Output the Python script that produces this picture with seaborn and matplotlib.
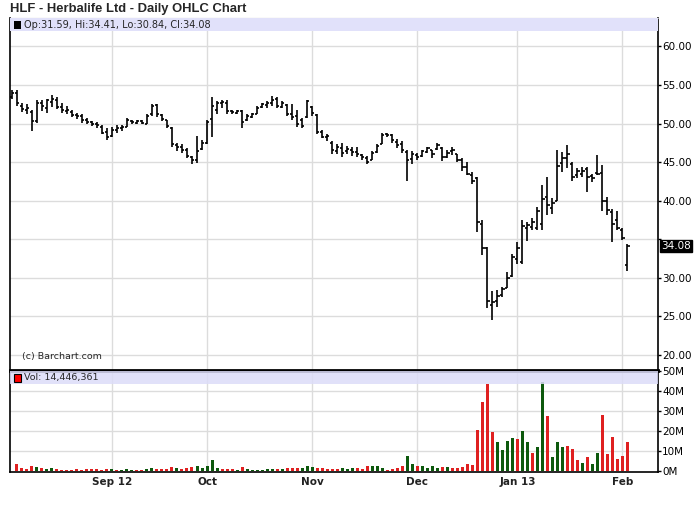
import matplotlib
matplotlib.use("Agg")
import matplotlib.pyplot as plt
from matplotlib.patches import Rectangle
import seaborn as sns
import numpy as np
import pandas as pd

# daily bars, Aug 6 2012 .. Feb 4 2013 (one row per trading day)
opens = [53.5, 54.0, 52.3, 51.8, 51.5, 50.3, 52.7, 52.0, 52.8, 53.1,
         52.1, 51.6, 51.5, 51.1, 51.0, 50.5, 50.2, 49.9, 49.6, 48.9,
         48.4, 49.1, 49.4, 49.6, 50.3, 50.1, 50.3, 50.0, 51.2, 52.4,
         51.1, 50.4, 49.4, 47.2, 47.0, 46.5, 45.6, 45.3, 46.7, 47.5,
         50.6, 51.8, 52.6, 52.7, 51.6, 51.4, 51.6, 50.5, 50.9, 51.3,
         52.1, 52.4, 52.6, 53.2, 52.2, 52.4, 51.3, 51.0, 50.4, 50.9,
         52.2, 51.1, 48.9, 48.2, 47.5, 46.4, 46.8, 46.4, 46.6, 46.3,
         45.9, 45.5, 45.3, 46.3, 47.4, 48.6, 48.5, 47.6, 47.3, 46.3,
         45.4, 45.9, 45.8, 46.3, 46.5, 46.7, 46.8, 45.7, 46.4, 46.0,
         45.2, 44.4, 43.3, 42.9, 36.9, 33.9, 26.5, 27.0, 27.7, 28.7,
         30.2, 32.4, 32.0, 36.5, 36.6, 36.4, 37.0, 40.4, 39.0, 40.0,
         44.9, 45.5, 44.8, 43.3, 43.4, 44.1, 43.2, 43.6, 43.6, 40.0,
         38.5, 37.5, 36.2, 31.59]
highs = [54.4, 54.3, 52.6, 52.5, 51.7, 53.0, 53.0, 53.2, 53.7, 53.4,
         52.6, 52.3, 51.7, 51.4, 51.2, 50.7, 50.3, 50.2, 49.8, 49.4,
         49.5, 49.8, 49.8, 50.7, 50.5, 50.5, 50.5, 51.2, 52.5, 52.5,
         51.2, 50.5, 49.5, 47.5, 47.3, 46.8, 45.8, 48.4, 47.9, 50.5,
         53.4, 52.9, 53.1, 53.1, 51.8, 51.8, 51.8, 51.2, 51.4, 52.3,
         52.7, 52.9, 53.6, 53.4, 52.9, 52.5, 52.5, 51.8, 50.7, 53.1,
         52.3, 51.2, 49.2, 48.6, 47.7, 47.3, 47.5, 47.1, 46.9, 46.9,
         46.0, 45.8, 46.4, 47.3, 48.8, 48.8, 48.6, 48.0, 47.7, 46.6,
         46.4, 46.2, 46.6, 47.0, 46.6, 47.5, 46.9, 46.6, 47.0, 46.1,
         45.5, 45.0, 43.7, 43.1, 37.5, 34.0, 28.3, 28.4, 28.8, 30.7,
         33.1, 34.6, 37.5, 37.2, 37.7, 39.2, 42.0, 43.1, 40.3, 46.5,
         46.3, 47.2, 45.0, 44.2, 44.4, 44.4, 43.5, 45.9, 44.6, 40.5,
         38.9, 38.7, 36.4, 34.41]
lows = [53.2, 52.3, 51.5, 51.3, 49.0, 50.1, 51.6, 51.4, 52.1, 51.9,
        51.4, 51.2, 50.8, 50.6, 50.1, 49.9, 49.7, 49.4, 48.6, 47.9,
        48.3, 48.8, 49.0, 49.6, 49.9, 49.9, 49.9, 49.9, 51.0, 50.9,
        50.3, 49.4, 47.0, 46.4, 46.2, 45.5, 44.8, 44.9, 46.6, 47.3,
        48.3, 51.2, 52.0, 51.2, 51.2, 51.2, 49.4, 50.3, 50.7, 51.2,
        52.0, 52.0, 52.3, 52.0, 52.0, 51.0, 50.5, 49.6, 49.4, 50.7,
        51.0, 48.6, 48.1, 47.7, 46.0, 46.0, 45.6, 46.0, 45.8, 45.6,
        45.3, 44.7, 45.3, 46.2, 47.3, 48.2, 47.5, 46.8, 46.2, 42.5,
        44.7, 45.3, 45.7, 46.2, 45.5, 46.6, 45.1, 45.5, 45.9, 45.0,
        43.9, 43.3, 42.2, 35.9, 32.9, 26.0, 24.5, 26.2, 27.5, 28.6,
        30.1, 31.8, 31.8, 34.8, 36.2, 36.2, 36.2, 38.1, 38.3, 40.0,
        43.7, 44.2, 42.6, 42.9, 43.1, 41.1, 42.4, 43.3, 38.7, 38.1,
        34.6, 36.2, 34.9, 30.84]
closes = [54.0, 52.7, 51.9, 52.0, 50.3, 52.6, 52.3, 53.0, 53.2, 52.2,
          51.7, 51.8, 51.1, 51.0, 50.5, 50.2, 49.9, 49.8, 48.8, 48.3,
          49.2, 49.4, 49.6, 50.4, 50.2, 50.3, 50.1, 51.0, 52.3, 51.2,
          50.6, 49.7, 47.4, 46.9, 46.6, 45.8, 45.2, 46.4, 47.5, 50.2,
          52.3, 52.6, 52.8, 51.6, 51.5, 51.6, 50.2, 51.0, 51.2, 52.0,
          52.5, 52.7, 53.0, 52.3, 52.6, 51.3, 50.9, 50.0, 49.7, 52.9,
          51.4, 48.9, 48.3, 48.4, 46.5, 46.9, 46.2, 46.7, 46.3, 46.0,
          45.6, 45.0, 46.2, 47.1, 48.5, 48.5, 47.8, 47.2, 46.5, 45.3,
          46.0, 45.6, 46.4, 46.8, 46.0, 47.2, 45.6, 46.2, 46.5, 45.3,
          44.3, 43.5, 42.6, 37.2, 33.9, 27.0, 26.8, 27.6, 28.5, 29.9,
          32.7, 33.9, 36.7, 36.8, 37.2, 38.7, 40.2, 39.4, 39.7, 44.5,
          45.5, 46.0, 43.0, 43.8, 43.9, 43.0, 42.9, 43.5, 40.0, 38.8,
          37.0, 36.4, 35.2, 34.08]
# volume in millions of shares
volumes = [0.0, 3.5, 1.7, 1.0, 2.5, 2.0, 1.5, 1.2, 1.5, 1.2,
           0.7, 0.7, 0.7, 1.0, 0.7, 1.0, 1.0, 1.0, 0.7, 1.0,
           1.0, 0.7, 0.7, 1.0, 0.7, 0.7, 0.7, 1.0, 1.5, 1.0,
           1.0, 1.0, 2.0, 1.5, 1.0, 1.5, 2.0, 2.5, 1.5, 2.5,
           5.7, 1.5, 1.0, 1.0, 1.0, 0.7, 2.0, 1.0, 0.7, 0.7,
           0.7, 1.0, 1.0, 1.0, 1.0, 1.5, 1.5, 1.5, 1.5, 2.5,
           2.0, 1.5, 1.5, 1.0, 1.0, 1.0, 1.5, 1.0, 1.3, 1.3,
           1.0, 2.5, 2.5, 2.5, 1.5, 0.5, 1.0, 1.5, 2.5, 7.5,
           3.5, 2.5, 2.5, 1.5, 2.5, 1.5, 2.0, 2.0, 1.5, 1.5,
           2.0, 3.5, 3.0, 20.5, 34.5, 43.5, 19.5, 14.5, 10.5, 15.0,
           16.5, 16.0, 20.0, 14.5, 9.0, 12.0, 44.5, 27.5, 7.0, 14.5,
           12.0, 12.5, 11.0, 5.5, 4.0, 7.0, 3.5, 9.0, 28.0, 8.5,
           17.0, 6.0, 7.5, 14.45]
# u = close above previous close (green), d = below (red)
vol_dir = list("ddddduduud" "dddddddddd" "uduuudduud" "ddduddduuu"
               "uuddduduuu" "uuududdduu" "uddddduuud" "dduuuddddu"
               "uduuuududd" "ddddddduuu" "uduuduuduu" "uddduduudd"
               "dddd")

month_pos = [20, 39, 60, 81, 101, 122]
month_labels = ["Sep 12", "Oct", "Nov", "Dec", "Jan 13", "Feb"]
price_ticks = [20, 25, 30, 35, 40, 45, 50, 55, 60]
vol_ticks = [0, 10, 20, 30, 40, 50]

sns.set_style("white")
plt.rcParams['font.family'] = ['DejaVu Sans']

df = pd.DataFrame({'day': np.arange(len(closes)), 'open': opens, 'high': highs,
                   'low': lows, 'close': closes, 'vol': volumes, 'dir': vol_dir})

fig = plt.figure(figsize=(7, 5.12), dpi=100)
ax = fig.add_axes([10 / 700, 142 / 512, 648 / 700, 352 / 512])
axv = fig.add_axes([10 / 700, 40 / 512, 648 / 700, 101 / 512])

grid_c = '#dcdcdc'
xlim = (-0.36, 129.1)

# price panel
for a in (ax, axv):
    for p in month_pos:
        a.axvline(p, color=grid_c, lw=1, zorder=0)
for v in price_ticks:
    ax.axhline(v, color=grid_c, lw=1, zorder=0)
ax.vlines(df['day'], df['low'], df['high'], color='black', lw=1.2, zorder=3)
ax.hlines(df['open'], df['day'] - 0.45, df['day'], color='black', lw=1.2, zorder=3)
ax.hlines(df['close'], df['day'], df['day'] + 0.45, color='black', lw=1.2, zorder=3)
ax.set_xlim(*xlim)
ax.set_ylim(18.0, 63.7)
ax.set_xticks([])
ax.yaxis.tick_right()
ax.set_yticks(price_ticks)
ax.set_yticklabels(['' if v == 35 else f'{v:.2f}' for v in price_ticks])
ax.tick_params(axis='y', direction='out', length=2, width=1, pad=1,
               labelsize=7.5, colors='black', right=True)

ax.add_patch(Rectangle((0, 1 - 13 / 352), 1, 13 / 352, transform=ax.transAxes,
                       facecolor='#e1e1fa', edgecolor='none', zorder=4))
ax.add_patch(Rectangle((0.006, 1 - 10.5 / 352), 0.011, 8 / 352, transform=ax.transAxes,
                       facecolor='black', edgecolor='none', zorder=5))
last = df.iloc[-1]
ax.text(0.021, 1 - 6.5 / 352,
        f"Op:{last['open']:.2f}, Hi:{last['high']:.2f}, Lo:{last['low']:.2f}, Cl:{last['close']:.2f}",
        transform=ax.transAxes, fontsize=7.0, va='center', ha='left', zorder=5)
ax.text(0.018, 0.038, "(c) Barchart.com", transform=ax.transAxes,
        fontsize=6.8, va='center', ha='left', zorder=5)
ax.annotate(f"{last['close']:.2f}", xy=(1.0, last['close']),
            xycoords=('axes fraction', 'data'), xytext=(2, 0),
            textcoords='offset points', fontsize=7.5, color='white',
            va='center', ha='left', annotation_clip=False,
            bbox=dict(boxstyle='square,pad=0.1', facecolor='black', edgecolor='black'))

for s in ('left', 'right', 'bottom'):
    ax.spines[s].set_color('black')
    ax.spines[s].set_linewidth(1.2)
ax.spines['top'].set_color('#9a9a9a')
ax.spines['top'].set_linewidth(0.8)
ax.spines['bottom'].set_linewidth(2)

fig.text(10 / 700, 1 - 9 / 512, "HLF - Herbalife Ltd - Daily OHLC Chart",
         family='Liberation Sans', fontweight='bold', fontsize=9.4,
         va='center', ha='left')

# volume panel
for v in vol_ticks[1:]:
    axv.axhline(v, color=grid_c, lw=1, zorder=0)
sns.barplot(data=df, x='day', y='vol', hue='dir', palette={'u': '#006600', 'd': '#ff0000'},
            native_scale=True, width=0.6, legend=False, ax=axv, zorder=2, linewidth=0)
axv.set_xlim(*xlim)
axv.set_ylim(-0.5, 50)
axv.set_xlabel('')
axv.set_ylabel('')
axv.yaxis.tick_right()
axv.set_yticks(vol_ticks)
axv.set_yticklabels([f'{v}M' for v in vol_ticks])
axv.tick_params(axis='y', direction='out', length=2, width=1, pad=1,
                labelsize=7.5, colors='black', right=True)
axv.set_xticks(month_pos)
axv.set_xticklabels(month_labels, fontweight='bold', fontsize=7.5, color='#222222')
axv.tick_params(axis='x', length=0, pad=3.5)
axv.add_patch(Rectangle((0, 1 - 13 / 101), 1, 13 / 101, transform=axv.transAxes,
                        facecolor='#dcdcf8', edgecolor='none', alpha=0.85, zorder=4))
axv.add_patch(Rectangle((0.006, 1 - 10.5 / 101), 0.011, 8 / 101, transform=axv.transAxes,
                        facecolor='#ff0000', edgecolor='black', lw=0.8, zorder=5))
axv.text(0.021, 1 - 6.5 / 101, "Vol: 14,446,361", transform=axv.transAxes,
         fontsize=6.8, va='center', ha='left', zorder=5)
for s in ('left', 'right', 'bottom', 'top'):
    axv.spines[s].set_color('black')
    axv.spines[s].set_linewidth(1.2)
axv.spines['top'].set_linewidth(2)

fig.savefig('out.png', dpi=100)
